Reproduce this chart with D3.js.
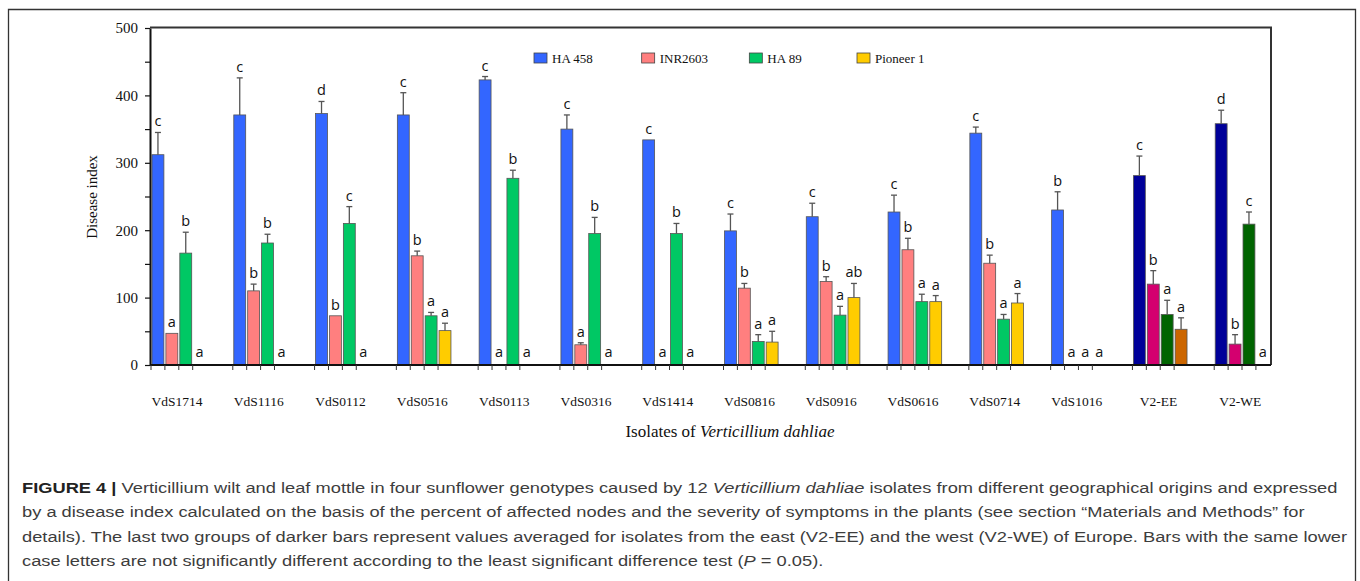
<!DOCTYPE html>
<html>
<head>
<meta charset="utf-8">
<script src="https://cdn.jsdelivr.net/npm/d3@7"></script>
<style>
  body { margin: 0; background: #fff; }
  svg { display: block; }
</style>
</head>
<body>
<svg id="chart" width="1360" height="581"></svg>
<script>
// Isolates of Verticillium dahliae and the four sunflower genotypes
const categories = ["VdS1714", "VdS1116", "VdS0112", "VdS0516", "VdS0113", "VdS0316", "VdS1414",
                    "VdS0816", "VdS0916", "VdS0616", "VdS0714", "VdS1016", "V2-EE", "V2-WE"];
const series = ["HA 458", "INR2603", "HA 89", "Pioneer 1"];

// Disease index (mean) per isolate
const ha458    = [312, 371, 373, 371, 423, 350, 334, 199, 220, 227, 344, 230, 281, 358];
const inr2603  = [ 47, 110,  73, 162,   0,  30,   0, 114, 124, 171, 151,   0, 120,  31];
const ha89     = [166, 181, 210,  73, 277, 195, 195,  35,  74,  94,  68,   0,  75, 209];
const pioneer1 = [  0,   0,   0,  51,   0,   0,   0,  34, 100,  94,  92,   0,  53,   0];

// Standard errors (upper whisker length)
const ha458Err    = [33, 55, 18, 33, 5, 21, 0, 25, 20, 25, 9, 27, 29, 20];
const inr2603Err  = [ 0, 10,  0,  7, 0,  3, 0,  7,  7, 17, 12, 0, 20, 14];
const ha89Err     = [31, 13, 25,  5, 12, 24, 15, 10, 13, 11,  7, 0, 21, 18];
const pioneer1Err = [ 0,  0,  0, 11, 0,  0, 0, 16, 21,  9, 14, 0, 17,  0];

// LSD grouping letters
const ha458Letters    = ["c","c","d","c","c","c","c","c","c","c","c","b","c","d"];
const inr2603Letters  = ["a","b","b","b","a","a","a","b","b","b","b","a","b","b"];
const ha89Letters     = ["b","b","c","a","b","b","b","a","a","a","a","a","a","c"];
const pioneer1Letters = ["a","a","a","a","a","a","a","a","ab","a","a","a","a","a"];

const yTickValues = [0, 50, 100, 150, 200, 250, 300, 350, 400, 450, 500];

const lightColors = ["#3366ff", "#ff7f7f", "#00c864", "#ffcc00"];
const darkColors  = ["#000099", "#d4006f", "#006400", "#cc6600"];
const averagedGroups = ["V2-EE", "V2-WE"];

const values  = [ha458, inr2603, ha89, pioneer1];
const errors  = [ha458Err, inr2603Err, ha89Err, pioneer1Err];
const letters = [ha458Letters, inr2603Letters, ha89Letters, pioneer1Letters];

const rows = [];
categories.forEach((cat, i) => {
  series.forEach((s, j) => {
    rows.push({ cat, s, j, v: values[j][i], e: errors[j][i], letter: letters[j][i],
                dark: averagedGroups.includes(cat) });
  });
});

const svg = d3.select("#chart");
const serif = "'Liberation Serif', 'Times New Roman', serif";

// outer figure frame
svg.append("path")
  .attr("d", "M8.5,590 V9.5 H1355.5 V590")
  .attr("fill", "none").attr("stroke", "#333").attr("stroke-width", 1.3);

const y  = d3.scaleLinear().domain([0, 500]).range([365, 28]);
const x0 = d3.scaleBand().domain(categories).range([151, 1296]);
const x1 = d3.scaleBand().domain(series).range([0, 55.6]);

const plotRight = 1271;

// plot box (top and right edges)
svg.append("path")
  .attr("d", `M150,${y(500) - 0.5} H${plotRight} V${y(0)}`)
  .attr("fill", "none").attr("stroke", "#333").attr("stroke-width", 2);

// bars
const g = svg.append("g");
g.selectAll("rect.bar")
  .data(rows.filter(d => d.v > 0))
  .join("rect")
  .attr("class", "bar")
  .attr("x", d => x0(d.cat) + x1(d.s) + 1)
  .attr("width", x1.bandwidth() - 2)
  .attr("y", d => y(d.v))
  .attr("height", d => y(0) - y(d.v))
  .attr("fill", d => (d.dark ? darkColors : lightColors)[d.j])
  .attr("stroke", "#555")
  .attr("stroke-width", 0.8);

// error bars
const cx = d => x0(d.cat) + x1(d.s) + 1 + (x1.bandwidth() - 2) / 2;
const eb = g.selectAll("g.err").data(rows.filter(d => d.v > 0 && d.e > 0)).join("g")
  .attr("class", "err").attr("stroke", "#555").attr("stroke-width", 1.3);
eb.append("line")
  .attr("x1", cx).attr("x2", cx)
  .attr("y1", d => y(d.v)).attr("y2", d => y(d.v + d.e));
eb.append("line")
  .attr("x1", d => cx(d) - 3).attr("x2", d => cx(d) + 3)
  .attr("y1", d => y(d.v + d.e)).attr("y2", d => y(d.v + d.e));

// significance letters
g.selectAll("text.letter")
  .data(rows)
  .join("text")
  .attr("class", "letter")
  .attr("x", cx)
  .attr("y", d => d.v > 0 ? y(d.v + d.e) - 6 : y(0) - 8)
  .attr("text-anchor", "middle")
  .attr("font-family", "'Open Sans', 'Noto Sans', sans-serif")
  .attr("font-size", 14.5)
  .attr("fill", "#111")
  .text(d => d.letter);

// y axis
const yAxis = svg.append("g")
  .attr("transform", "translate(150,0)")
  .call(d3.axisLeft(y).tickValues(yTickValues).tickSize(5).tickSizeOuter(0).tickPadding(7)
    .tickFormat(d => d % 100 === 0 ? d : ""));
yAxis.select(".domain").attr("stroke", "#111").attr("stroke-width", 2);
yAxis.selectAll(".tick line").attr("stroke", "#111").attr("stroke-width", 1.2);
yAxis.selectAll(".tick text").attr("font-family", serif).attr("font-size", 15).attr("fill", "#111");

// x axis line and slot ticks
svg.append("line")
  .attr("x1", 150).attr("x2", plotRight).attr("y1", y(0)).attr("y2", y(0))
  .attr("stroke", "#111").attr("stroke-width", 2);
svg.append("g").selectAll("line")
  .data(rows)
  .join("line")
  .attr("x1", d => x0(d.cat) + x1(d.s)).attr("x2", d => x0(d.cat) + x1(d.s))
  .attr("y1", y(0)).attr("y2", y(0) + 5)
  .attr("stroke", "#333").attr("stroke-width", 1);

// category labels
svg.append("g").selectAll("text")
  .data(categories)
  .join("text")
  .attr("x", d => x0(d) + 26)
  .attr("y", 406)
  .attr("text-anchor", "middle")
  .attr("font-family", serif)
  .attr("font-size", 13.5)
  .attr("fill", "#111")
  .text(d => d);

// axis titles
svg.append("text")
  .attr("transform", "translate(97,197) rotate(-90)")
  .attr("text-anchor", "middle")
  .attr("font-family", serif).attr("font-size", 15).attr("fill", "#111")
  .text("Disease index");

const xt = svg.append("text")
  .attr("x", 730).attr("y", 437)
  .attr("text-anchor", "middle")
  .attr("font-family", serif).attr("font-size", 17).attr("fill", "#111");
xt.append("tspan").text("Isolates of ");
xt.append("tspan").attr("font-style", "italic").text("Verticillium dahliae");

// legend
const lx = d3.scalePoint().domain(series).range([534, 857]);
const lg = svg.append("g").selectAll("g").data(series).join("g")
  .attr("transform", s => `translate(${lx(s)},53)`);
lg.append("rect").attr("width", 13).attr("height", 10)
  .attr("fill", (s, i) => lightColors[i]).attr("stroke", "#444").attr("stroke-width", 0.8);
lg.append("text").attr("x", 18).attr("y", 10)
  .attr("font-family", serif).attr("font-size", 13).attr("fill", "#111")
  .text(s => s);

// caption (set in a slightly wide face)
const captionLines = [
  [["b", "FIGURE 4 | "], ["", "Verticillium wilt and leaf mottle in four sunflower genotypes caused by 12 "], ["i", "Verticillium dahliae"], ["", " isolates from different geographical origins and expressed"]],
  [["", "by a disease index calculated on the basis of the percent of affected nodes and the severity of symptoms in the plants (see section \u201cMaterials and Methods\u201d for"]],
  [["", "details). The last two groups of darker bars represent values averaged for isolates from the east (V2-EE) and the west (V2-WE) of Europe. Bars with the same lower"]],
  [["", "case letters are not significantly different according to the least significant difference test ("], ["i", "P"], ["", " = 0.05)."]]
];
const cap = svg.append("g")
  .attr("transform", "translate(22,0) scale(1.18,1)")
  .attr("font-family", "'Liberation Sans', Arial, sans-serif")
  .attr("font-size", 15.5).attr("fill", "#3d3d3d");
captionLines.forEach((parts, k) => {
  const t = cap.append("text").attr("x", 0).attr("y", 493 + k * 24.5);
  parts.forEach(([style, str]) => {
    const sp = t.append("tspan").text(str);
    if (style === "b") sp.attr("font-weight", "bold").attr("fill", "#222");
    if (style === "i") sp.attr("font-style", "italic");
  });
});
</script>
</body>
</html>
